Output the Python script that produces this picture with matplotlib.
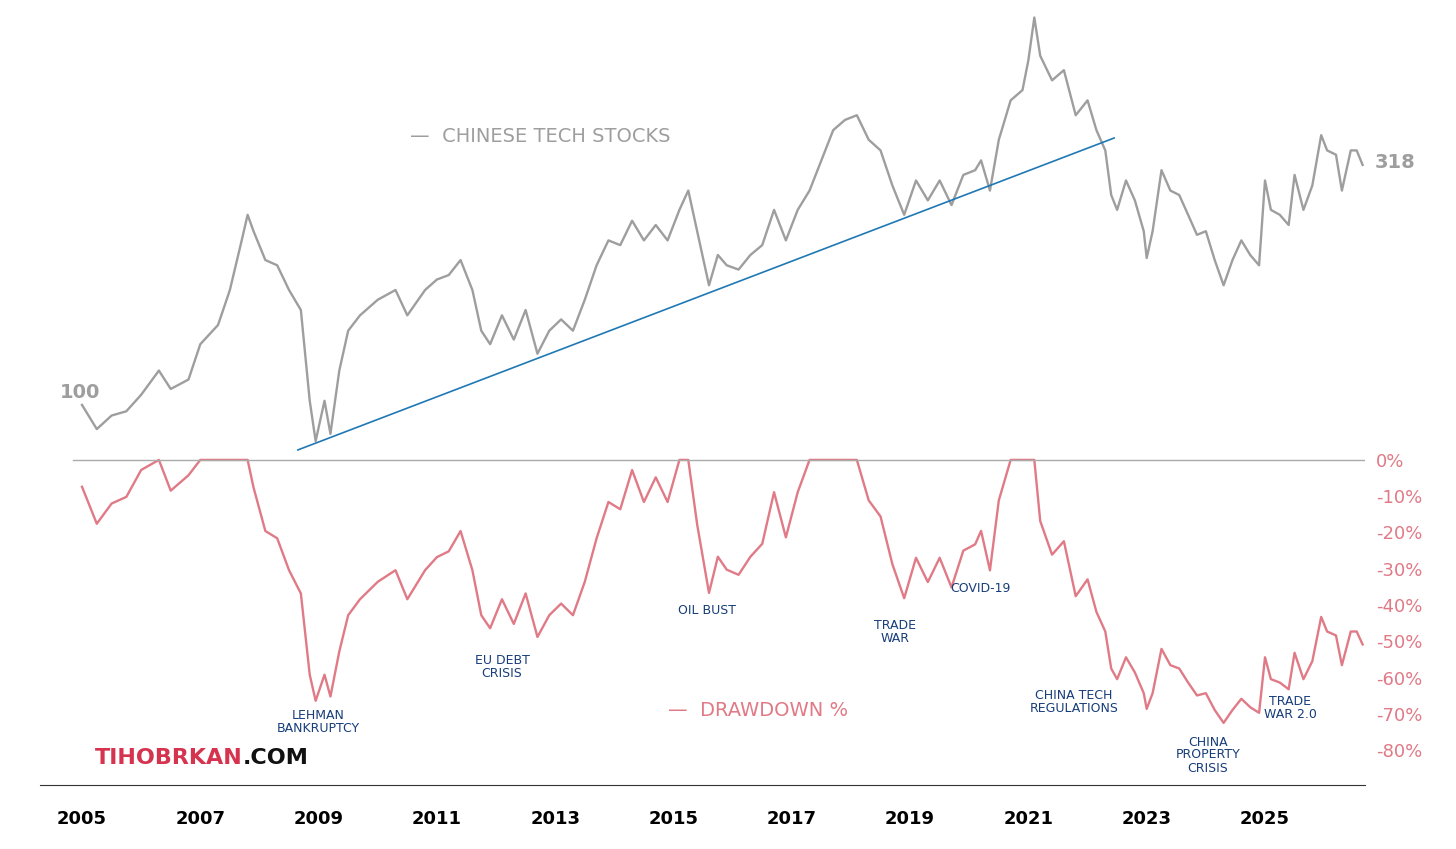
import numpy as np
import matplotlib
matplotlib.use("Agg")
import matplotlib.pyplot as plt

years = [2005.0,2005.25,2005.5,2005.75,2006.0,2006.3,2006.5,2006.8,2007.0,2007.3,2007.5,2007.7,2007.8,2007.9,2008.1,2008.3,2008.5,2008.7,2008.85,2008.95,2009.1,2009.2,2009.35,2009.5,2009.7,2010.0,2010.3,2010.5,2010.8,2011.0,2011.2,2011.4,2011.6,2011.75,2011.9,2012.1,2012.3,2012.5,2012.7,2012.9,2013.1,2013.3,2013.5,2013.7,2013.9,2014.1,2014.3,2014.5,2014.7,2014.9,2015.1,2015.25,2015.4,2015.6,2015.75,2015.9,2016.1,2016.3,2016.5,2016.7,2016.9,2017.1,2017.3,2017.5,2017.7,2017.9,2018.1,2018.3,2018.5,2018.7,2018.9,2019.1,2019.3,2019.5,2019.7,2019.9,2020.1,2020.2,2020.35,2020.5,2020.7,2020.9,2021.0,2021.1,2021.2,2021.4,2021.6,2021.8,2022.0,2022.15,2022.3,2022.4,2022.5,2022.65,2022.8,2022.95,2023.0,2023.1,2023.25,2023.4,2023.55,2023.7,2023.85,2024.0,2024.15,2024.3,2024.45,2024.6,2024.75,2024.9,2025.0,2025.1,2025.25,2025.4,2025.5,2025.65,2025.8,2025.95,2026.05,2026.2,2026.3,2026.45,2026.55,2026.65]
price = [100,89,95,97,105,118,108,113,134,147,174,221,250,231,201,196,174,158,102,84,102,87,118,143,154,166,174,154,174,183,187,201,174,143,134,154,137,158,128,143,151,143,166,196,221,216,243,221,238,221,256,281,231,178,206,196,192,206,216,256,221,256,281,325,376,395,404,359,341,288,250,295,268,295,262,303,310,325,281,359,434,456,527,647,538,478,502,404,434,376,341,275,256,295,268,231,203,231,310,281,275,250,227,231,201,178,201,221,206,196,295,256,250,238,303,256,288,367,341,334,281,341,341,318]
prior_high = 108
trend_x = [2008.65, 2022.45]
trend_y = [80.5, 362]
tick_years = list(range(2005, 2026, 2))
dd_ticks = [0, -10, -20, -30, -40, -50, -60, -70, -80]

annotations = [("LEHMAN\nBANKRUPTCY", 318, 722), ("EU DEBT\nCRISIS", 502, 667), ("OIL BUST", 707, 610),
               ("TRADE\nWAR", 895, 632), ("COVID-19", 980, 589), ("CHINA TECH\nREGULATIONS", 1074, 702),
               ("CHINA\nPROPERTY\nCRISIS", 1208, 755), ("TRADE\nWAR 2.0", 1290, 708)]

p = np.array(price, float)
runmax = np.maximum.accumulate(np.maximum(p, prior_high))
dd = (p / runmax - 1) * 100

W, H = 1456, 849
fig = plt.figure(figsize=(W/100, H/100), dpi=100)
L, R = 40, 1365
x0 = 2005 - (82 - L) / 59.15
x1 = 2005 + (R - 82) / 59.15
def rect(top, bot):
    return [L/W, 1 - bot/H, (R-L)/W, (bot-top)/H]

ax1 = fig.add_axes(rect(0, 457))
ax2 = fig.add_axes(rect(457, 785))
gray = "#9e9e9e"; pink = "#e07a86"; blue = "#1f78b4"

ax1.plot(years, price, color=gray, lw=1.7)
ax1.plot(trend_x, trend_y, color=blue, lw=1.2)
ax1.set_yscale("log")
ax1.set_ylim(77.8, 704)
ax1.set_xlim(x0, x1)
ax1.axis("off")

ax2.plot(years, dd, color=pink, lw=1.7)
ax2.axhline(0, color="#aaaaaa", lw=1, xmin=0.025)
ax2.set_ylim(-89.6, 0.8)
ax2.set_xlim(x0, x1)
for s in ["top", "left", "right"]:
    ax2.spines[s].set_visible(False)
ax2.spines["bottom"].set_color("#333333")
ax2.yaxis.tick_right()
ax2.set_yticks(dd_ticks)
ax2.set_yticklabels([f"{t}%" for t in dd_ticks], color=pink, fontsize=13)
ax2.tick_params(axis="y", length=0, pad=8)
ax2.set_xticks(tick_years)
ax2.set_xticklabels([str(y) for y in tick_years], fontsize=13, fontweight="bold")
ax2.tick_params(axis="x", length=0, pad=18)

def ft(x, y, s, **kw):
    return fig.text(x/W, 1 - y/H, s, **kw)

ft(80, 393, "100", color=gray, fontsize=14, ha="center", va="center", fontweight="bold")
ft(1395, 163, "318", color=gray, fontsize=14, ha="center", va="center", fontweight="bold")
ft(410, 137, "—  CHINESE TECH STOCKS", color=gray, fontsize=14, va="center")
ft(668, 711, "—  DRAWDOWN %", color=pink, fontsize=14, va="center")
t1 = ft(95, 758, "TIHOBRKAN", color="#d6334f", fontsize=16, fontweight="bold", va="center")
fig.canvas.draw()
bb = t1.get_window_extent(fig.canvas.get_renderer())
fig.text(bb.x1 / W, 1 - 758/H, ".COM", color="#111111", fontsize=16, fontweight="bold", va="center")
for s, x, y in annotations:
    ft(x, y, s, color="#173d7a", fontsize=9, ha="center", va="center", linespacing=1.0)

fig.savefig("out.png", dpi=100, facecolor="white")
